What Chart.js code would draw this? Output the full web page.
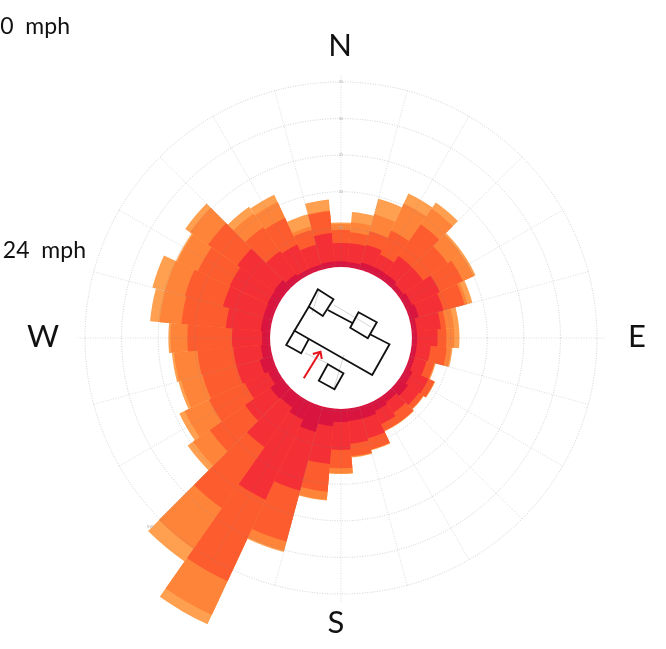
<!DOCTYPE html>
<html>
<head>
<meta charset="utf-8">
<title>Wind rose</title>
<script src="https://cdn.jsdelivr.net/npm/chart.js@4/dist/chart.umd.min.js"></script>
<style>
    html, body { margin: 0; padding: 0; background: #fff; overflow: hidden; }
    canvas { display: block; }
</style>
</head>
<body>
<canvas id="rose" width="666" height="649"></canvas>
<script>
// 36 direction bins, clockwise from north, 10 degrees each
const directions = [
    '0', '10', '20', '30', '40', '50', '60', '70', '80', '90', '100', '110',
    '120', '130', '140', '150', '160', '170', '180', '190', '200', '210', '220', '230',
    '240', '250', '260', '270', '280', '290', '300', '310', '320', '330', '340', '350',
];

// cumulative mph, innermost band first
const band1 = [10.5, 10.4, 10.7, 10.7, 10.7, 10.4, 10.7, 11.0, 10.4, 10.4, 10.4, 10.4, 10.8, 11.2, 10.7, 11.0, 11.4, 11.4, 11.5, 12.1, 13.3, 12.3, 11.6, 11.8, 11.0, 11.5, 11.0, 10.8, 11.0, 11.0, 11.1, 11.2, 10.7, 10.4, 10.4, 10.5];
const band2 = [13.0, 13.0, 13.2, 12.6, 13.7, 13.7, 14.9, 14.5, 13.7, 13.2, 12.3, 12.1, 13.2, 13.0, 12.5, 13.0, 14.2, 14.5, 15.3, 17.3, 21.6, 24.4, 18.2, 16.0, 14.5, 14.8, 14.8, 14.9, 15.8, 16.7, 16.8, 17.3, 14.5, 14.1, 13.2, 14.4];
const band3 = [14.8, 14.5, 15.1, 16.2, 19.0, 17.8, 18.4, 17.5, 14.4, 14.4, 14.5, 13.2, 14.1, 13.7, 14.0, 14.0, 15.8, 16.2, 17.8, 21.1, 28.8, 36.7, 28.4, 21.9, 19.9, 19.6, 19.7, 21.0, 21.9, 22.1, 21.6, 22.2, 18.5, 18.1, 15.3, 17.4];
const band4 = [15.6, 15.9, 17.5, 20.3, 21.6, 20.0, 20.0, 17.9, 15.5, 15.5, 15.1, 13.3, 14.1, 13.8, 14.0, 14.0, 15.8, 16.3, 18.5, 22.2, 30.1, 41.8, 35.2, 24.7, 23.6, 22.6, 22.9, 23.3, 24.9, 24.9, 24.7, 25.2, 20.8, 20.5, 15.8, 17.5];
const band5 = [15.8, 17.3, 19.7, 21.8, 22.6, 20.3, 20.3, 18.6, 16.2, 16.2, 15.3, 13.4, 14.2, 13.8, 14.1, 14.1, 15.9, 16.4, 18.6, 22.3, 30.3, 43.2, 37.3, 25.6, 24.4, 23.0, 23.2, 23.6, 26.2, 26.7, 24.9, 26.0, 21.9, 21.6, 17.5, 19.0];

const bandColors = ['#d9143f', '#f42f36', '#fc5c2e', '#fe843a', '#fea04f'];
const bands = [band1, band2, band3, band4, band5];

// axis limits and extras around the rose
const rMin = 0;
const rMax = 35;
const rStep = 5;
const holeValue = 9.7;
const compass = ['N', 'E', 'S', 'W'];
const windNotes = ['10 mph', '24 mph'];

function toPx(scale, angleDeg, value) {
    const r = scale.getDistanceFromCenterForValue(value);
    const a = (angleDeg - 90) * Math.PI / 180;
    return { x: scale.xCenter + r * Math.cos(a), y: scale.yCenter + r * Math.sin(a) };
}

// spokes every 15 degrees; the library only draws them per data bin
const spokesPlugin = {
    id: 'spokes',
    afterDatasetsDraw(chart) {
        const scale = chart.scales.r;
        const ctx = chart.ctx;
        ctx.save();
        ctx.strokeStyle = 'rgba(120,130,145,0.4)';
        ctx.lineWidth = 0.7;
        ctx.setLineDash([1, 1.5]);
        for (let a = 0; a < 360; a += 15) {
            const end = toPx(scale, a, a % 90 === 0 ? rMax + 1 : rMax);
            ctx.beginPath();
            ctx.moveTo(scale.xCenter, scale.yCenter);
            ctx.lineTo(end.x, end.y);
            ctx.stroke();
        }
        ctx.restore();
    },
};

function strokePath(ctx, cx, cy, pts, close) {
    ctx.beginPath();
    pts.forEach((p, i) => (i ? ctx.lineTo(cx + p[0], cy + p[1]) : ctx.moveTo(cx + p[0], cy + p[1])));
    if (close) ctx.closePath();
    ctx.stroke();
}

// white hole, building sketch and the texts
const overlayPlugin = {
    id: 'overlay',
    afterDraw(chart) {
        const scale = chart.scales.r;
        const ctx = chart.ctx;
        const cx = scale.xCenter;
        const cy = scale.yCenter;

        ctx.save();
        ctx.fillStyle = '#fff';
        ctx.beginPath();
        ctx.arc(cx, cy, scale.getDistanceFromCenterForValue(holeValue), 0, Math.PI * 2);
        ctx.fill();

        // faint lines under the building sketch
        ctx.strokeStyle = '#d5d7dc';
        ctx.lineWidth = 1;
        strokePath(ctx, cx, cy, [[-22, -47], [-29, -25]]);
        strokePath(ctx, cx, cy, [[-7, -33], [30, -11]]);
        strokePath(ctx, cx, cy, [[-36, 15], [-12, 26]]);
        strokePath(ctx, cx, cy, [[3, 17], [-7, 50]]);

        // building, in pixels from the centre
        ctx.strokeStyle = '#111';
        ctx.lineWidth = 1.8;
        ctx.lineJoin = 'miter';
        strokePath(ctx, cx, cy, [[-32.2, -31.3], [-46.5, -7.3], [31.2, 37], [48.5, 6.3], [28.5, -4]]);
        strokePath(ctx, cx, cy, [[-13.2, -28], [11.8, -14.7]]);
        strokePath(ctx, cx, cy, [[-23.2, -48.7], [-7.5, -38.7], [-18.2, -22], [-32.2, -31.3]], true);
        strokePath(ctx, cx, cy, [[17.5, -25.7], [35.8, -15.7], [26.8, 0.3], [9.2, -10.3]], true);
        strokePath(ctx, cx, cy, [[-46.5, -7.3], [-54.8, 7], [-39.8, 15.3], [-32.2, 1]]);
        strokePath(ctx, cx, cy, [[-13.2, 26.3], [2.5, 35.3], [-6.5, 51.3], [-22.2, 42.7]], true);

        // red arrow
        ctx.strokeStyle = '#e8141c';
        ctx.lineWidth = 2;
        strokePath(ctx, cx, cy, [[-37.2, 40.3], [-21.5, 14.7]]);
        strokePath(ctx, cx, cy, [[-28.2, 16], [-20.5, 13.7], [-19.2, 21]]);

        // radial tick labels along the north spoke
        ctx.fillStyle = '#b0b0b0';
        ctx.font = '4px "Liberation Sans"';
        ctx.textAlign = 'center';
        ctx.textBaseline = 'middle';
        scale.ticks.forEach(t => {
            if (t.value >= 15) {
                ctx.fillText(String(t.value), cx, cy - scale.getDistanceFromCenterForValue(t.value));
            }
        });
        ctx.fillText('SW', 150, 527);

        ctx.fillStyle = '#111';
        ctx.font = '31px Lato';
        ctx.fillText(compass[0], 340, 46);
        ctx.fillText(compass[1], 637, 337);
        ctx.fillText(compass[2], 336, 623);
        ctx.fillText(compass[3], 43, 337);

        ctx.font = '23px Lato';
        ctx.wordSpacing = '6px';
        ctx.textAlign = 'right';
        ctx.fillText(windNotes[0], 70, 27);
        ctx.fillText(windNotes[1], 86, 251);
        ctx.restore();
    },
};

new Chart(document.getElementById('rose'), {
    type: 'polarArea',
    data: {
        labels: directions,
        datasets: bands.map((values, i) => ({
            data: values,
            backgroundColor: bandColors[i],
            borderWidth: 0,
            clip: false,
        })),
    },
    options: {
        responsive: false,
        animation: false,
        layout: { padding: { left: 85, right: 69, top: 82, bottom: 55 } },
        plugins: {
            legend: { display: false },
            tooltip: { enabled: false },
        },
        scales: {
            r: {
                min: rMin,
                max: rMax,
                startAngle: -5,
                ticks: { display: false, stepSize: rStep },
                grid: { circular: true, color: 'rgba(120,130,145,0.5)', lineWidth: 0.7, z: 1 },
                border: { dash: [1, 1.5] },
                angleLines: { display: false },
                pointLabels: { display: false },
            },
        },
    },
    plugins: [spokesPlugin, overlayPlugin],
});
</script>
</body>
</html>
